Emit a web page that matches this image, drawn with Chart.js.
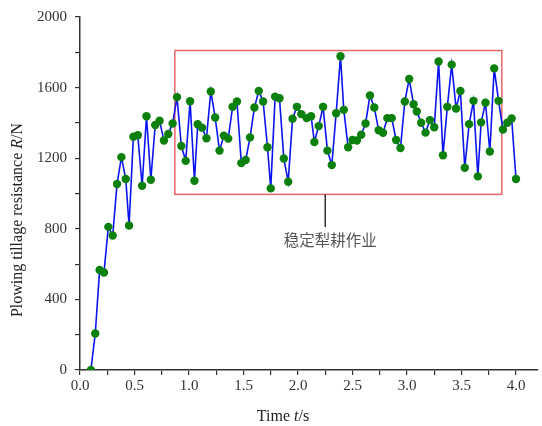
<!DOCTYPE html>
<html>
<head>
<meta charset="utf-8">
<script src="https://cdn.jsdelivr.net/npm/chart.js@4.4.0/dist/chart.umd.min.js"></script>
<style>
  html, body { margin: 0; padding: 0; background: #fff; }
  #wrap { width: 542px; height: 426px; }
</style>
</head>
<body>
<div id="wrap"><canvas id="forceChart" width="542" height="426"></canvas></div>
<script>
// time (s) of each sample
const times = [
  0.10, 0.14, 0.18, 0.22, 0.26, 0.30, 0.34, 0.38, 0.42, 0.45,
  0.49, 0.53, 0.57, 0.61, 0.65, 0.69, 0.73, 0.77, 0.81, 0.85,
  0.89, 0.93, 0.97, 1.01, 1.05, 1.08, 1.12, 1.16, 1.20, 1.24,
  1.28, 1.32, 1.36, 1.40, 1.44, 1.48, 1.52, 1.56, 1.60, 1.64,
  1.68, 1.72, 1.75, 1.79, 1.83, 1.87, 1.91, 1.95, 1.99, 2.03,
  2.08, 2.12, 2.15, 2.19, 2.23, 2.27, 2.31, 2.35, 2.39, 2.42,
  2.46, 2.50, 2.54, 2.58, 2.62, 2.66, 2.70, 2.74, 2.78, 2.82,
  2.86, 2.90, 2.94, 2.98, 3.02, 3.06, 3.09, 3.13, 3.17, 3.21,
  3.25, 3.29, 3.33, 3.37, 3.41, 3.45, 3.49, 3.53, 3.57, 3.61,
  3.65, 3.68, 3.72, 3.76, 3.80, 3.84, 3.88, 3.92, 3.96, 4.00
];

// plowing tillage resistance (N)
const resistance = [
  0, 207, 567, 552, 811, 762, 1054, 1206, 1082, 819,
  1322, 1330, 1044, 1438, 1078, 1388, 1412, 1300, 1337, 1397,
  1546, 1269, 1185, 1523, 1072, 1392, 1373, 1313, 1578, 1431,
  1243, 1328, 1311, 1491, 1521, 1172, 1190, 1318, 1487, 1581,
  1521, 1262, 1029, 1549, 1540, 1198, 1067, 1424, 1491, 1450,
  1427, 1438, 1292, 1382, 1491, 1243, 1161, 1455, 1778, 1474,
  1262, 1303, 1300, 1333, 1397, 1555, 1487, 1358, 1344, 1427,
  1427, 1303, 1258, 1521, 1649, 1506, 1465, 1401, 1345, 1416,
  1375, 1748, 1217, 1491, 1730, 1482, 1581, 1146, 1393, 1525,
  1097, 1403, 1514, 1238, 1709, 1525, 1363, 1401, 1425, 1082
];

// "stable plowing" region: [tStart, tEnd, rLow, rHigh]
const stableBox = [0.87, 3.87, 995, 1810];
const stableLabel = "稳定犁耕作业";
const stableLabelAt = [2.25, 810];

const points = times.map((t, i) => ({ x: t, y: resistance[i] }));

function drawMixed(ctx, parts, size) {
  let total = 0;
  parts.forEach((p) => {
    ctx.font = (p.italic ? "italic " : "") + size + "px 'Liberation Serif', 'Times New Roman', serif";
    p.w = ctx.measureText(p.text).width;
    total += p.w;
  });
  let x = -total / 2;
  parts.forEach((p) => {
    ctx.font = (p.italic ? "italic " : "") + size + "px 'Liberation Serif', 'Times New Roman', serif";
    ctx.fillText(p.text, x, 0);
    x += p.w;
  });
}

const extras = {
  id: "extras",
  beforeDatasetsDraw(chart) {
    const { ctx, scales } = chart;
    const xs = scales.x, ys = scales.y;
    const l = xs.getPixelForValue(stableBox[0]);
    const r = xs.getPixelForValue(stableBox[1]);
    const b = ys.getPixelForValue(stableBox[2]);
    const t = ys.getPixelForValue(stableBox[3]);
    ctx.save();
    ctx.strokeStyle = "#e8666a";
    ctx.lineWidth = 1.5;
    ctx.strokeRect(l, t, r - l, b - t);

    const lx = xs.getPixelForValue(stableLabelAt[0]);
    const ly = ys.getPixelForValue(stableLabelAt[1]);
    ctx.strokeStyle = "#333";
    ctx.lineWidth = 1.5;
    ctx.beginPath();
    ctx.moveTo(lx, b);
    ctx.lineTo(lx, ly);
    ctx.stroke();

    ctx.fillStyle = "#555";
    ctx.font = "15.5px 'Noto Sans CJK SC', sans-serif";
    ctx.textAlign = "center";
    ctx.textBaseline = "middle";
    ctx.fillText(stableLabel, lx + 5, ly + 13);
    ctx.restore();
  },
  afterDraw(chart) {
    const { ctx } = chart;
    ctx.save();
    ctx.fillStyle = "#222";
    ctx.textBaseline = "middle";
    ctx.textAlign = "left";

    ctx.translate(283, 417);
    drawMixed(ctx, [{ text: "Time " }, { text: "t", italic: true }, { text: "/s" }], 16);
    ctx.restore();

    ctx.save();
    ctx.fillStyle = "#222";
    ctx.textBaseline = "middle";
    ctx.textAlign = "left";
    ctx.translate(18, 220);
    ctx.rotate(-Math.PI / 2);
    drawMixed(ctx, [{ text: "Plowing tillage resistance " }, { text: "R", italic: true }, { text: "/N" }], 16);
    ctx.restore();
  },
};

const ctx = document.getElementById("forceChart");

const myChart = new Chart(ctx, {
  type: "scatter",
  data: {
    datasets: [
      {
        label: "Resistance",
        data: points,
        showLine: true,
        borderColor: "#0a14f0",
        borderWidth: 1.6,
        backgroundColor: "#0b800b",
        pointBackgroundColor: "#0b800b",
        pointBorderColor: "#0b800b",
        pointRadius: 4.2,
        pointBorderWidth: 0,
        tension: 0,
      },
    ],
  },
  options: {
    responsive: false,
    animation: false,
    layout: { padding: { top: 15, left: 0, right: 0, bottom: 0 } },
    scales: {
      x: {
        type: "linear",
        min: 0,
        max: 4.2,
        afterFit: (scale) => { scale.height = 56; },
        ticks: {
          stepSize: 0.25,
          includeBounds: false,
          autoSkip: false,
          maxRotation: 0,
          padding: 2,
          color: "#333",
          font: { family: "'Liberation Serif', 'Times New Roman', serif", size: 15 },
          callback: (v) => (Math.abs(v * 2 - Math.round(v * 2)) < 1e-6 ? v.toFixed(1) : ""),
        },
        grid: { drawOnChartArea: false, color: "#333", tickLength: 5, lineWidth: 1.2 },
        border: { display: true, color: "#333", width: 1.5 },
      },
      y: {
        min: 0,
        max: 2000,
        afterFit: (scale) => { scale.width = 80; },
        ticks: {
          stepSize: 200,
          autoSkip: false,
          padding: 8,
          color: "#333",
          font: { family: "'Liberation Serif', 'Times New Roman', serif", size: 15 },
          callback: (v) => (v % 400 === 0 ? v : ""),
        },
        grid: { drawOnChartArea: false, color: "#333", tickLength: 5, lineWidth: 1.2 },
        border: { display: true, color: "#333", width: 1.5 },
      },
    },
    plugins: {
      legend: { display: false },
      tooltip: { enabled: false },
    },
  },
  plugins: [extras],
});
</script>
</body>
</html>
